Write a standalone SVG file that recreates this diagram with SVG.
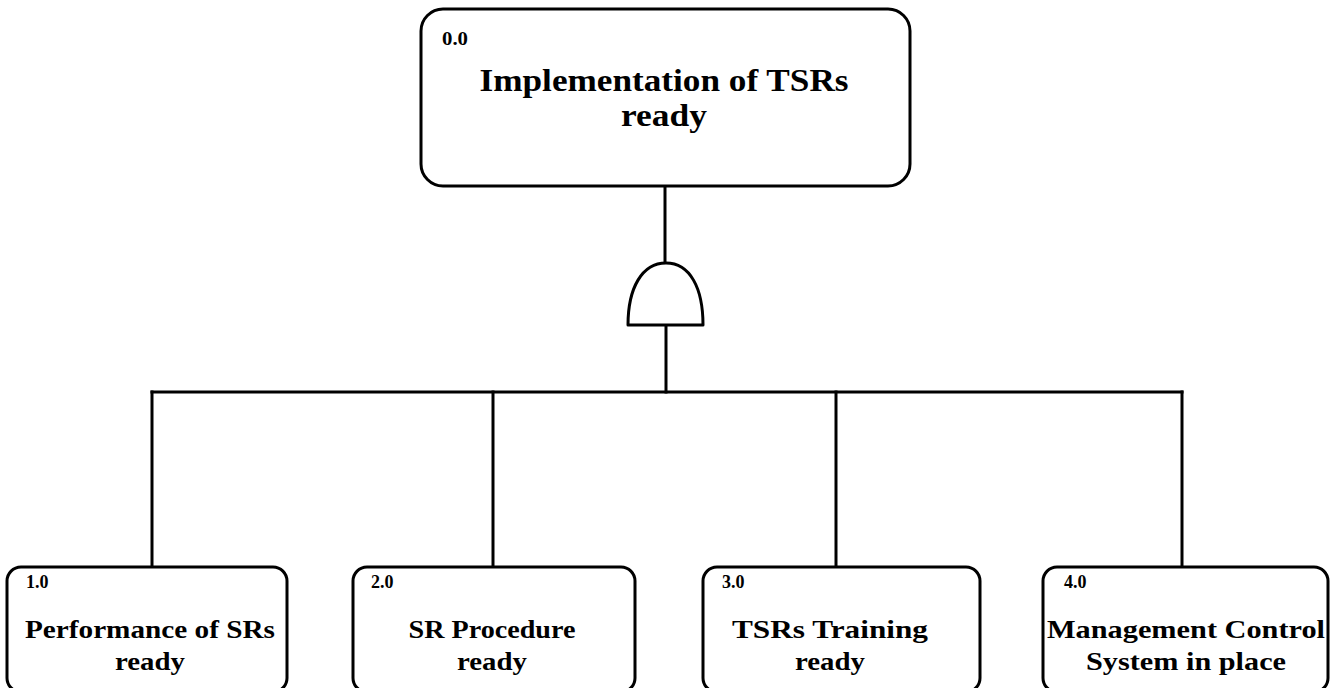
<svg xmlns="http://www.w3.org/2000/svg" width="1331" height="688" viewBox="0 0 1331 688">
<style>
.box{fill:#fff;stroke:#000;stroke-width:3}
.ln{fill:none;stroke:#000;stroke-width:3;stroke-linecap:square}
.gate{fill:#fff;stroke:#000;stroke-width:3;stroke-linejoin:round}
.id{font-family:"Liberation Serif",serif;font-weight:bold;font-size:18px;fill:#000}
.t0{font-family:"Liberation Serif",serif;font-weight:bold;font-size:32px;fill:#000;text-anchor:middle}
.t1{font-family:"Liberation Serif",serif;font-weight:bold;font-size:26px;fill:#000;text-anchor:middle}
</style>
<rect width="1331" height="688" fill="#fff"/>
<g id="connectors">
<line class="ln" x1="665" y1="186" x2="665" y2="263"/>
<line class="ln" x1="666" y1="325" x2="666" y2="392"/>
<line class="ln" x1="152" y1="392" x2="1182" y2="392"/>
<line class="ln" x1="152" y1="392" x2="152" y2="567"/>
<line class="ln" x1="493" y1="392" x2="493" y2="567"/>
<line class="ln" x1="836" y1="392" x2="836" y2="567"/>
<line class="ln" x1="1182" y1="392" x2="1182" y2="567"/>
</g>
<g id="gate">
<path class="gate" d="M628,325 L703,325 C703,288 690,263 666,263 C642,263 628,288 628,325 Z"/>
</g>
<g id="node0">
<rect class="box" x="421" y="9" width="489" height="177" rx="22"/>
<text class="id" x="442" y="45" textLength="26" lengthAdjust="spacingAndGlyphs">0.0</text>
<text class="t0" x="664" y="91" textLength="369" lengthAdjust="spacingAndGlyphs">Implementation of TSRs</text>
<text class="t0" x="664" y="126" textLength="86" lengthAdjust="spacingAndGlyphs">ready</text>
</g>
<g id="node1">
<rect class="box" x="7" y="567" width="280" height="125" rx="14"/>
<text class="id" x="26" y="588">1.0</text>
<text class="t1" x="150" y="638" textLength="250" lengthAdjust="spacingAndGlyphs">Performance of SRs</text>
<text class="t1" x="150" y="670" textLength="70" lengthAdjust="spacingAndGlyphs">ready</text>
</g>
<g id="node2">
<rect class="box" x="353" y="567" width="282" height="125" rx="14"/>
<text class="id" x="371" y="588">2.0</text>
<text class="t1" x="492" y="638" textLength="167" lengthAdjust="spacingAndGlyphs">SR Procedure</text>
<text class="t1" x="492" y="670" textLength="70" lengthAdjust="spacingAndGlyphs">ready</text>
</g>
<g id="node3">
<rect class="box" x="703" y="567" width="277" height="125" rx="14"/>
<text class="id" x="722" y="588">3.0</text>
<text class="t1" x="830" y="638" textLength="196" lengthAdjust="spacingAndGlyphs">TSRs Training</text>
<text class="t1" x="830" y="670" textLength="70" lengthAdjust="spacingAndGlyphs">ready</text>
</g>
<g id="node4">
<rect class="box" x="1043" y="567" width="285" height="125" rx="14"/>
<text class="id" x="1064" y="588">4.0</text>
<text class="t1" x="1186" y="638" textLength="278" lengthAdjust="spacingAndGlyphs">Management Control</text>
<text class="t1" x="1186" y="670" textLength="200" lengthAdjust="spacingAndGlyphs">System in place</text>
</g>
</svg>
